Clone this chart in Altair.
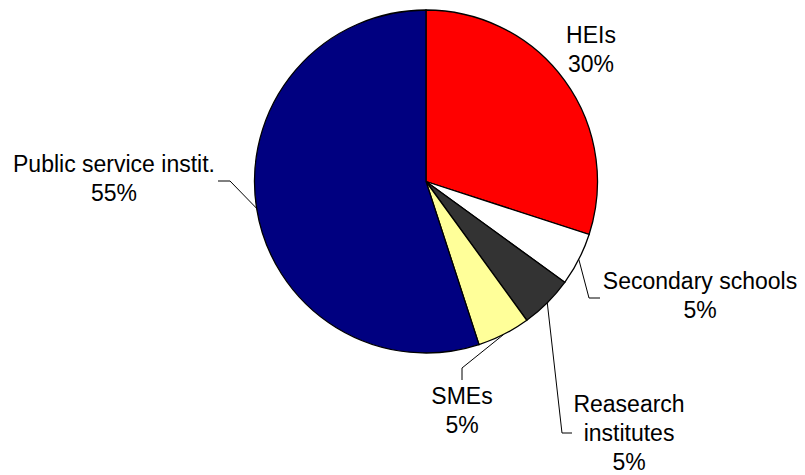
import altair as alt
import pandas as pd
import numpy as np

# ---- data ----
categories = ["HEIs", "Secondary schools", "Reasearch institutes", "SMEs", "Public service instit."]
label_lines = ["HEIs", "Secondary schools", "Reasearch\ninstitutes", "SMEs", "Public service instit."]
shares = [30, 5, 5, 5, 55]
colors = ["#FF0000", "#FFFFFF", "#333333", "#FFFF99", "#000080"]

# ---- layout ----
W, H = 805, 475
CX, CY, R = 426, 181.5, 171.5
FONT = "Liberation Sans"

# centre of the first text line of each label
label_pos = {
    "HEIs": (591, 36),
    "Secondary schools": (700, 282),
    "Reasearch institutes": (629, 405),
    "SMEs": (462, 397),
    "Public service instit.": (114, 165),
}
leader_pts = {
    "Secondary schools": [(589, 298), (600, 298)],
    "Reasearch institutes": [(562, 433), (572, 433)],
    "SMEs": [(462, 368), (462, 380)],
    "Public service instit.": [(230, 181), (218, 181)],
}

total = sum(shares)
cum = np.cumsum([0] + shares[:-1])
mid_angle = {c: 2 * np.pi * (s0 + v / 2) / total for c, s0, v in zip(categories, cum, shares)}

pie_df = pd.DataFrame({
    "category": categories,
    "share": shares,
    "idx": list(range(len(categories))),
})

lab_df = pd.DataFrame({
    "category": categories,
    "text": [f"{t}\n{v}%" for t, v in zip(label_lines, shares)],
    "x": [label_pos[c][0] for c in categories],
    "y": [label_pos[c][1] for c in categories],
})

segs = []
for c, pts in leader_pts.items():
    a = mid_angle[c]
    start = (CX + R * np.sin(a), CY - R * np.cos(a))
    chain = [start] + pts
    for p, q in zip(chain[:-1], chain[1:]):
        segs.append({"x": p[0], "y": p[1], "x2": q[0], "y2": q[1]})
seg_df = pd.DataFrame(segs)

xs = alt.Scale(domain=[0, W], range=[0, W], nice=False, zero=False)
ys = alt.Scale(domain=[0, H], range=[0, H], nice=False, zero=False)

pie = alt.Chart(pie_df).mark_arc(outerRadius=R, stroke="black", strokeWidth=1.3).encode(
    theta=alt.Theta("share:Q", stack=True),
    order=alt.Order("idx:Q", sort="ascending"),
    color=alt.Color("category:N", scale=alt.Scale(domain=categories, range=colors), legend=None),
    x=alt.value(CX),
    y=alt.value(CY),
)

leaders = alt.Chart(seg_df).mark_rule(color="black", strokeWidth=1).encode(
    x=alt.X("x:Q", scale=xs, axis=None),
    y=alt.Y("y:Q", scale=ys, axis=None),
    x2="x2:Q",
    y2="y2:Q",
)

labels = alt.Chart(lab_df).mark_text(
    font=FONT, fontSize=23, lineBreak="\n", lineHeight=29,
    align="center", baseline="middle", color="black",
).encode(
    x=alt.X("x:Q", scale=xs, axis=None),
    y=alt.Y("y:Q", scale=ys, axis=None),
    text="text:N",
)

chart = alt.layer(pie, leaders, labels).properties(
    width=W, height=H, autosize=alt.AutoSizeParams(type="none"), padding=0,
    background="white",
).configure_view(stroke=None)

chart.save("out.html", embed_options={"renderer": "svg", "actions": False})
